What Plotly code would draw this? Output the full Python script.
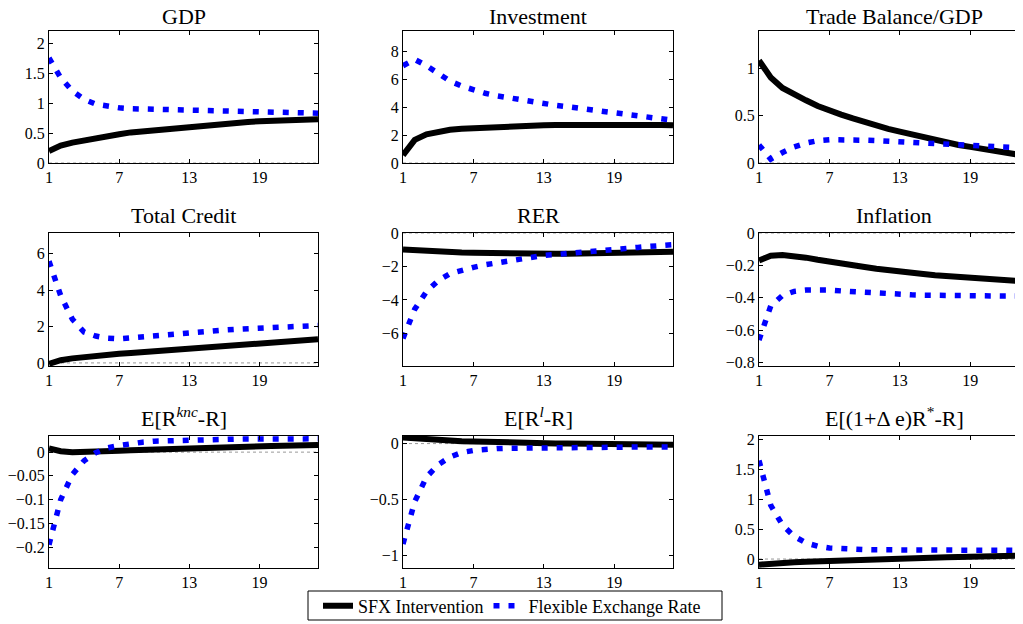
import plotly.graph_objects as go

periods = list(range(1, 25))

titles = ["GDP", "Investment", "Trade Balance/GDP",
          "Total Credit", "RER", "Inflation",
          "E[R<sup><i>knc</i></sup>-R]", "E[R<sup><i>l</i></sup>-R]", "E[(1+Δ e)R<sup>*</sup>-R]"]

gdp_sfx = [0.2, 0.29, 0.34, 0.38, 0.42, 0.45, 0.48, 0.51, 0.53, 0.55, 0.57, 0.59, 0.61, 0.63, 0.645,
           0.66, 0.675, 0.685, 0.695, 0.705, 0.715, 0.72, 0.725, 0.73]
gdp_flex = [1.75, 1.42, 1.2, 1.06, 0.98, 0.94, 0.92, 0.905, 0.9, 0.895, 0.89, 0.885, 0.88, 0.875, 0.87,
            0.865, 0.86, 0.855, 0.85, 0.845, 0.84, 0.837, 0.833, 0.83]

inv_sfx = [0.55, 1.65, 2.05, 2.25, 2.37, 2.45, 2.5, 2.55, 2.58, 2.62, 2.65, 2.68, 2.7, 2.72, 2.73,
           2.74, 2.75, 2.75, 2.75, 2.75, 2.74, 2.73, 2.72, 2.7]
inv_flex = [6.95, 7.4, 6.95, 6.35, 5.85, 5.5, 5.2, 4.98, 4.8, 4.65, 4.52, 4.4, 4.25, 4.12, 4.02,
            3.92, 3.82, 3.72, 3.62, 3.52, 3.42, 3.3, 3.18, 3.05]

tb_sfx = [1.08, 0.9, 0.79, 0.72, 0.66, 0.6, 0.55, 0.51, 0.47, 0.43, 0.39, 0.36, 0.33, 0.3, 0.27,
          0.24, 0.22, 0.19, 0.17, 0.15, 0.13, 0.11, 0.09, 0.07]
tb_flex = [0.19, 0.04, 0.11, 0.17, 0.21, 0.235, 0.245, 0.248, 0.245, 0.24, 0.235, 0.228, 0.222, 0.215,
           0.208, 0.202, 0.196, 0.19, 0.184, 0.178, 0.172, 0.166, 0.16, 0.155]

cred_sfx = [-0.05, 0.15, 0.25, 0.33, 0.4, 0.45, 0.5, 0.55, 0.6, 0.65, 0.7, 0.75, 0.8, 0.85, 0.89,
            0.93, 0.97, 1.01, 1.05, 1.1, 1.15, 1.2, 1.25, 1.3]
cred_flex = [5.6, 3.7, 2.4, 1.7, 1.48, 1.36, 1.32, 1.38, 1.45, 1.52, 1.58, 1.63, 1.68, 1.72, 1.77,
             1.81, 1.85, 1.88, 1.92, 1.95, 1.98, 2.01, 2.04, 2.06]

rer_sfx = [-0.98, -1.03, -1.07, -1.1, -1.13, -1.16, -1.18, -1.2, -1.21, -1.22, -1.23, -1.235, -1.24,
           -1.24, -1.24, -1.235, -1.23, -1.22, -1.21, -1.2, -1.18, -1.16, -1.14, -1.12]
rer_flex = [-6.3, -4.55, -3.5, -2.85, -2.43, -2.22, -2.05, -1.9, -1.78, -1.65, -1.53, -1.42, -1.34,
            -1.29, -1.24, -1.18, -1.09, -1.02, -0.97, -0.91, -0.86, -0.8, -0.75, -0.7]

inf_sfx = [-0.17, -0.14, -0.135, -0.14, -0.152, -0.165, -0.178, -0.19, -0.2, -0.21, -0.22, -0.23,
           -0.238, -0.246, -0.253, -0.26, -0.266, -0.272, -0.278, -0.283, -0.288, -0.292, -0.296, -0.3]
inf_flex = [-0.66, -0.45, -0.385, -0.36, -0.352, -0.35, -0.352, -0.357, -0.362, -0.367, -0.372,
            -0.376, -0.379, -0.381, -0.383, -0.385, -0.386, -0.387, -0.388, -0.388, -0.389, -0.389,
            -0.389, -0.389]

rknc_sfx = [0.008, 0.002, 0.0, 0.0, 0.001, 0.002, 0.003, 0.004, 0.005, 0.006, 0.007, 0.008, 0.009,
            0.0095, 0.01, 0.011, 0.0115, 0.012, 0.0125, 0.013, 0.0135, 0.014, 0.0145, 0.015]
rknc_flex = [-0.195, -0.1, -0.047, -0.018, -0.001, 0.009, 0.014, 0.018, 0.021, 0.023, 0.024, 0.025,
             0.026, 0.0265, 0.027, 0.0272, 0.0275, 0.0277, 0.028, 0.028, 0.028, 0.028, 0.028, 0.028]

rl_sfx = [0.055, 0.045, 0.038, 0.032, 0.027, 0.022, 0.018, 0.015, 0.012, 0.009, 0.007, 0.005, 0.003,
          0.001, 0.0, -0.002, -0.003, -0.004, -0.005, -0.006, -0.007, -0.008, -0.009, -0.01]
rl_flex = [-0.9, -0.52, -0.3, -0.19, -0.12, -0.08, -0.062, -0.05, -0.045, -0.042, -0.04, -0.038,
           -0.037, -0.036, -0.035, -0.034, -0.033, -0.033, -0.032, -0.032, -0.031, -0.031, -0.03, -0.03]

uip_sfx = [-0.095, -0.075, -0.062, -0.053, -0.045, -0.037, -0.03, -0.023, -0.016, -0.01, -0.004,
           0.002, 0.008, 0.013, 0.018, 0.023, 0.028, 0.033, 0.038, 0.043, 0.048, 0.053, 0.058, 0.063]
uip_flex = [1.65, 0.9, 0.57, 0.38, 0.27, 0.215, 0.185, 0.17, 0.162, 0.158, 0.155, 0.153, 0.152,
            0.151, 0.15, 0.149, 0.148, 0.147, 0.146, 0.146, 0.145, 0.145, 0.144, 0.144]

sfx_series = [gdp_sfx, inv_sfx, tb_sfx, cred_sfx, rer_sfx, inf_sfx, rknc_sfx, rl_sfx, uip_sfx]
flex_series = [gdp_flex, inv_flex, tb_flex, cred_flex, rer_flex, inf_flex, rknc_flex, rl_flex, uip_flex]

y_ranges = [[0, 2.2], [0, 9.43], [0, 1.39],
            [-0.17, 7.15], [-7.95, 0], [-0.82, 0],
            [-0.244, 0.034], [-1.116, 0.068], [-0.15, 2.06]]
y_dticks = [0.5, 2, 0.5, 2, 2, 0.2, 0.05, 0.5, 0.5]
x_ticks = [1, 7, 13, 19]
x_range = [1, 24]

legend_names = ["SFX Intervention", "Flexible Exchange Rate"]

W, H = 1023, 624
OFF = 8  # page body margin
col_px = [(49, 318), (403, 673), (759, 1029)]
row_px = [(31, 163), (233, 366), (436, 568)]
title_gap = [0, 3, 3]
legend_box_px = (308, 591, 722, 620)

FONT = "Liberation Serif"

fig = go.Figure()
layout = dict(
    template="none",
    width=W, height=H, margin=dict(l=0, r=0, t=0, b=0, pad=0, autoexpand=False),
    paper_bgcolor="white", plot_bgcolor="white",
    font=dict(family=FONT, size=16, color="black"),
    showlegend=True,
    legend=dict(orientation="h", x=(318 - OFF) / W, xanchor="left",
                y=1 - (606 - OFF) / H, yanchor="middle",
                borderwidth=0, bgcolor="rgba(0,0,0,0)",
                font=dict(family=FONT, size=18, color="black"),
                itemwidth=30, tracegroupgap=0),
)
annotations = []
shapes = []

for i in range(9):
    r, c = divmod(i, 3)
    n = i + 1
    xa = "xaxis" if n == 1 else f"xaxis{n}"
    ya = "yaxis" if n == 1 else f"yaxis{n}"
    xr = "x" if n == 1 else f"x{n}"
    yr = "y" if n == 1 else f"y{n}"
    x0, x1 = [v - OFF for v in col_px[c]]
    top, bot = [v - OFF for v in row_px[r]]
    layout[xa] = dict(domain=[x0 / W, x1 / W], anchor=yr, range=x_range,
                      tickvals=x_ticks, ticks="inside", ticklen=4, tickcolor="black",
                      showline=True, linecolor="black", linewidth=1, automargin=False,
                      mirror="ticks", showgrid=False, zeroline=False,
                      tickfont=dict(family=FONT, size=16))
    layout[ya] = dict(domain=[1 - bot / H, 1 - top / H], anchor=xr, range=y_ranges[i],
                      dtick=y_dticks[i], tick0=0, ticks="inside", ticklen=4, tickcolor="black",
                      showline=True, linecolor="black", linewidth=1, automargin=False,
                      mirror="ticks", showgrid=False, zeroline=False,
                      tickfont=dict(family=FONT, size=16))
    # zero reference line (dotted grey)
    shapes.append(dict(type="line", xref=f"{xr} domain", yref=yr, x0=0, x1=1, y0=0, y1=0,
                       line=dict(color="#999999", width=1, dash="dot"), layer="below"))
    fig.add_trace(go.Scatter(x=periods, y=sfx_series[i], mode="lines", xaxis=xr, yaxis=yr,
                             name=legend_names[0], showlegend=(i == 0), legendgroup="sfx",
                             line=dict(color="black", width=6)))
    fig.add_trace(go.Scatter(x=periods, y=flex_series[i], mode="lines", xaxis=xr, yaxis=yr,
                             name=legend_names[1], showlegend=(i == 0), legendgroup="flex",
                             line=dict(color="#0000ff", width=5.5, dash="6px,9px")))
    cx = (x0 + x1) / 2 / W
    annotations.append(dict(text=titles[i], x=cx, y=1 - (top - title_gap[r]) / H,
                            xref="paper", yref="paper",
                            xanchor="center", yanchor="bottom", showarrow=False,
                            font=dict(family=FONT, size=22, color="black")))

# legend frame
lx0, ly0, lx1, ly1 = legend_box_px
shapes.append(dict(type="rect", xref="paper", yref="paper",
                   x0=(lx0 - OFF) / W, x1=(lx1 - OFF) / W,
                   y0=1 - (ly1 - OFF) / H, y1=1 - (ly0 - OFF) / H,
                   line=dict(color="black", width=1), fillcolor="rgba(0,0,0,0)", layer="above"))

layout["annotations"] = annotations
layout["shapes"] = shapes
fig.update_layout(**layout)
fig.write_html("out.html")
